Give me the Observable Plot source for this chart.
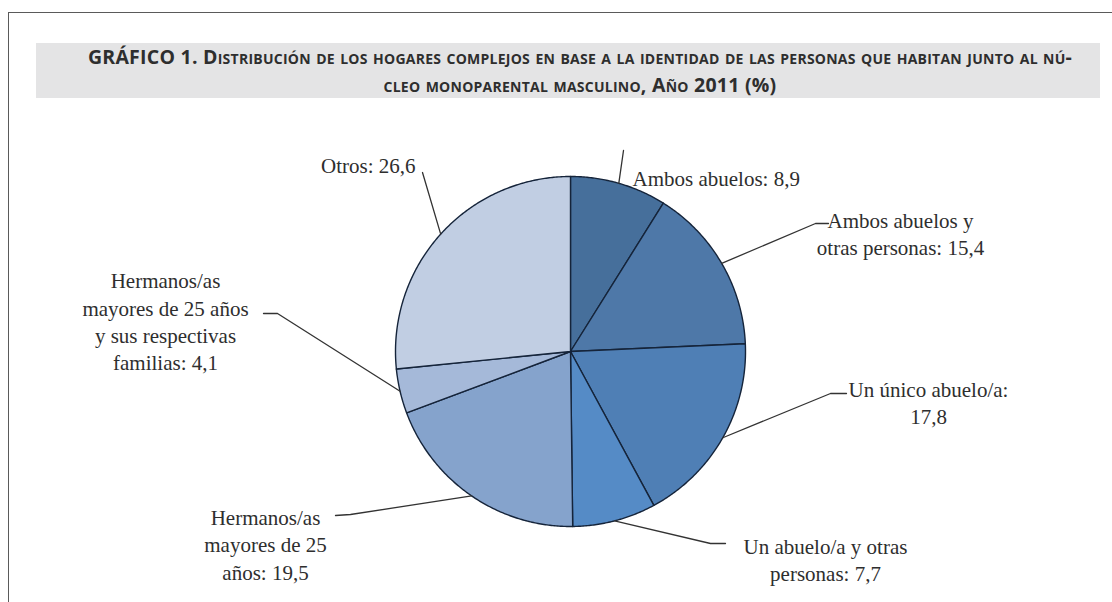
<!DOCTYPE html>
<html>
<head>
<meta charset="utf-8">
<script src="https://cdn.jsdelivr.net/npm/d3@7"></script>
<script src="https://cdn.jsdelivr.net/npm/@observablehq/plot@0.6"></script>
<style>
  html, body { margin: 0; padding: 0; background: #fff; }
  body { width: 1112px; height: 602px; position: relative; overflow: hidden; }
  #frame { position: absolute; left: 8px; top: 12px; width: 1200px; height: 700px;
           border-top: 1.5px solid #5a5a5a; border-left: 1.5px solid #5a5a5a; }
  #title { position: absolute; left: 36px; top: 43px; width: 1064px; height: 55px;
           background: #e4e4e5; font-family: "Open Sans", sans-serif; font-weight: 700;
           color: #2e2e2e; font-size: 19.5px; line-height: 28px; text-align: center;
           font-variant: small-caps; letter-spacing: 0.25px; box-sizing: border-box; }
  #title div { white-space: nowrap; position: relative; left: 12px; }
  #chart { position: absolute; left: 0; top: 0; }
</style>
</head>
<body>
<div id="frame"></div>
<div id="title">
  <div>GRÁFICO 1. Distribución de los hogares complejos en base a la identidad de las personas que habitan junto al nú-</div>
  <div>cleo monoparental masculino, Año 2011 (%)</div>
</div>
<div id="chart"></div>
<script>
// ---- data ----
const categories = [
  "Ambos abuelos",
  "Ambos abuelos y otras personas",
  "Un único abuelo/a",
  "Un abuelo/a y otras personas",
  "Hermanos/as mayores de 25 años",
  "Hermanos/as mayores de 25 años y sus respectivas familias",
  "Otros"
];
const values = [8.9, 15.4, 17.8, 7.7, 19.5, 4.1, 26.6];
const labelTexts = [
  "Ambos abuelos: 8,9",
  "Ambos abuelos y\notras personas: 15,4",
  "Un único abuelo/a:\n17,8",
  "Un abuelo/a y otras\npersonas: 7,7",
  "Hermanos/as\nmayores de 25\naños: 19,5",
  "Hermanos/as\nmayores de 25 años\ny sus respectivas\nfamilias: 4,1",
  "Otros: 26,6"
];
const sliceColors = ["#466f9b", "#4e78a8", "#4f7fb5", "#558bc6", "#85a3cc", "#a5b9d9", "#c1cee3"];

// ---- layout (pixel offsets from pie centre, y downward) ----
const W = 1112, H = 602, R = 175, CX = 570, CY = 351;
const labelLayout = [
  {anchor: "start",  tx: 62,   ty: -174,  path: [[53, -201]]},
  {anchor: "middle", tx: 330,  ty: -119,  path: [[245, -128], [258, -128]]},
  {anchor: "middle", tx: 358,  ty: 50,    path: [[260, 42], [276, 42]]},
  {anchor: "middle", tx: 255,  ty: 207,   path: [[140, 192], [155, 192]]},
  {anchor: "middle", tx: -305, ty: 192,   path: [[-220, 163], [-235, 164]]},
  {anchor: "middle", tx: -405, ty: -31,   path: [[-293, -38], [-307, -38]]},
  {anchor: "end",    tx: -155, ty: -187,  path: [[-148, -179]]}
];

const rows = categories.map((c, i) => ({category: c, value: values[i], label: labelTexts[i], i}));
const arcs = d3.pie().sort(null).value(d => d.value).startAngle(0).endAngle(2 * Math.PI)(rows);

// slice polygons (unit radius, y downward)
const slicePts = [];
for (const a of arcs) {
  const cat = a.data.category;
  slicePts.push({category: cat, x: 0, y: 0});
  const n = Math.max(2, Math.ceil((a.endAngle - a.startAngle) / (Math.PI / 360)));
  for (let k = 0; k <= n; k++) {
    const t = a.startAngle + (a.endAngle - a.startAngle) * k / n;
    slicePts.push({category: cat, x: Math.sin(t), y: -Math.cos(t)});
  }
}

// leader lines
const leaderPts = [];
const textRows = [];
arcs.forEach((a, i) => {
  const mid = (a.startAngle + a.endAngle) / 2;
  const L = labelLayout[i];
  leaderPts.push({category: a.data.category, x: Math.sin(mid), y: -Math.cos(mid)});
  for (const [px, py] of L.path) leaderPts.push({category: a.data.category, x: px / R, y: py / R});
  textRows.push({label: a.data.label, x: L.tx / R, y: L.ty / R, anchor: L.anchor});
});

const textOpts = {x: "x", y: "y", text: "label", fontSize: 21, lineHeight: 1.3,
  fontFamily: "'Liberation Serif', 'Times New Roman', serif", fill: "#2e2e2e", lineAnchor: "middle"};

const plot = Plot.plot({
  width: W, height: H,
  margin: 0,
  x: {domain: [-CX / R, (W - CX) / R], axis: null},
  y: {domain: [-CY / R, (H - CY) / R], reverse: true, axis: null},
  color: {type: "ordinal", domain: categories, range: sliceColors},
  style: {background: "transparent", overflow: "visible"},
  marks: [
    Plot.line(slicePts, {x: "x", y: "y", z: "category", fill: "category", stroke: "#15243a",
      strokeWidth: 1.4, curve: "linear-closed", strokeLinejoin: "round"}),
    Plot.line(leaderPts, {x: "x", y: "y", z: "category", stroke: "#333", strokeWidth: 1.3}),
    Plot.text(textRows.filter(d => d.anchor === "start"), {...textOpts, textAnchor: "start"}),
    Plot.text(textRows.filter(d => d.anchor === "middle"), {...textOpts, textAnchor: "middle"}),
    Plot.text(textRows.filter(d => d.anchor === "end"), {...textOpts, textAnchor: "end"})
  ]
});
document.getElementById("chart").appendChild(plot);
</script>
</body>
</html>
